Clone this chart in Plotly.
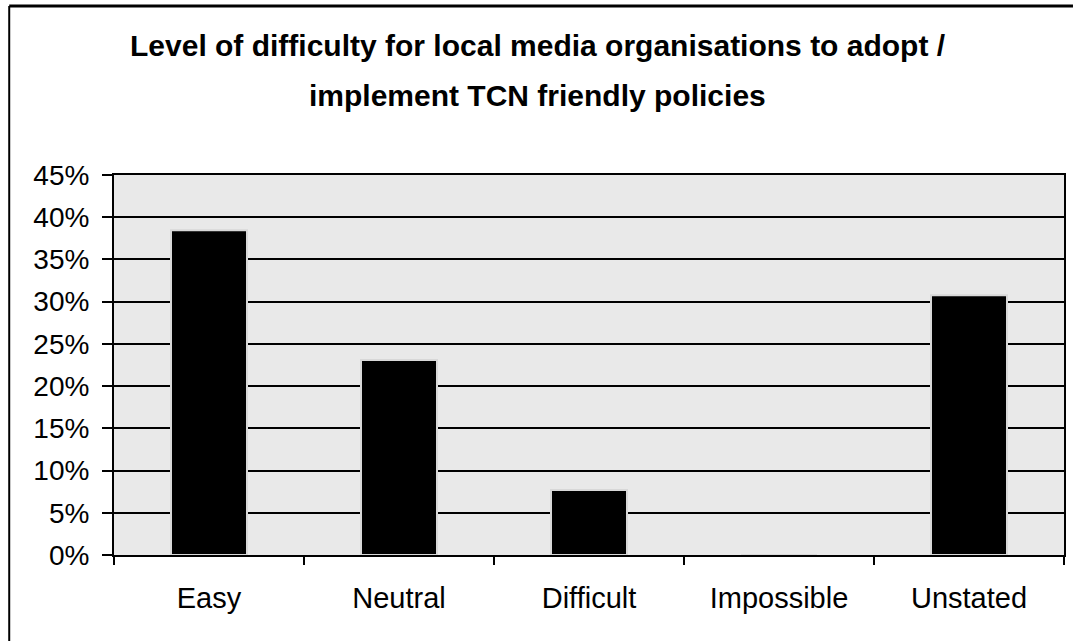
import plotly.graph_objects as go

categories = ["Easy", "Neutral", "Difficult", "Impossible", "Unstated"]
values = [0.3846, 0.2308, 0.0769, 0.0, 0.3077]
y_ticks = [0, 0.05, 0.10, 0.15, 0.20, 0.25, 0.30, 0.35, 0.40, 0.45]
y_labels = ["0%", "5%", "10%", "15%", "20%", "25%", "30%", "35%", "40%", "45%"]
title_lines = ["Level of difficulty for local media organisations to adopt /",
               "implement TCN friendly policies"]

W, H = 1075, 641
L, R, T, B = 114, 9, 175, 86

fig = go.Figure()
fig.add_trace(go.Bar(
    x=categories, y=values, width=0.4,
    marker=dict(color="black", line=dict(color="#d8d8d8", width=2)),
    hoverinfo="x+y",
))

font = "Liberation Sans, Arial, sans-serif"
pw = W - L - R
ph = H - T - B
for i, line in enumerate(title_lines):
    fig.add_annotation(
        text="<b>%s</b>" % line, xref="paper", yref="paper",
        x=(W / 2 + 1 - L) / pw, y=(H - B - (45 + 50 * i)) / ph,
        xanchor="center", yanchor="middle", showarrow=False,
        font=dict(family=font, size=30, color="black"),
    )

# outer chart border (left and top)
fig.add_shape(type="line", xref="paper", yref="paper",
              x0=(9 - L) / pw, x1=(9 - L) / pw, y0=(H - B - 641) / ph, y1=(H - B - 6) / ph,
              line=dict(color="black", width=2))
fig.add_shape(type="line", xref="paper", yref="paper",
              x0=(9 - L) / pw, x1=(1075 - L) / pw, y0=(H - B - 6) / ph, y1=(H - B - 6) / ph,
              line=dict(color="black", width=3))

fig.update_layout(
    width=W, height=H,
    margin=dict(l=L, r=R, t=T, b=B, pad=0),
    paper_bgcolor="white",
    plot_bgcolor="#e9e9e9",
    showlegend=False,
    bargap=0.6,
    font=dict(family=font, color="black"),
)
fig.update_xaxes(
    showline=True, linecolor="black", linewidth=2, mirror=True,
    ticks="outside", tickson="boundaries", ticklen=8, tickcolor="black", tickwidth=1.5,
    tickfont=dict(family=font, size=29, color="black"),
    showgrid=False, ticklabelstandoff=16,
)
fig.update_yaxes(
    range=[0, 0.45], tickvals=y_ticks, ticktext=y_labels,
    showline=True, linecolor="black", linewidth=2, mirror=True,
    ticks="outside", ticklen=10, tickcolor="black", tickwidth=1.5,
    tickfont=dict(family=font, size=28, color="black"),
    showgrid=True, gridcolor="black", gridwidth=1.5,
    zeroline=False, ticklabelstandoff=7,
)

fig.write_html("out.html", config={"displayModeBar": False},
               post_script="document.body.style.margin='0';")
